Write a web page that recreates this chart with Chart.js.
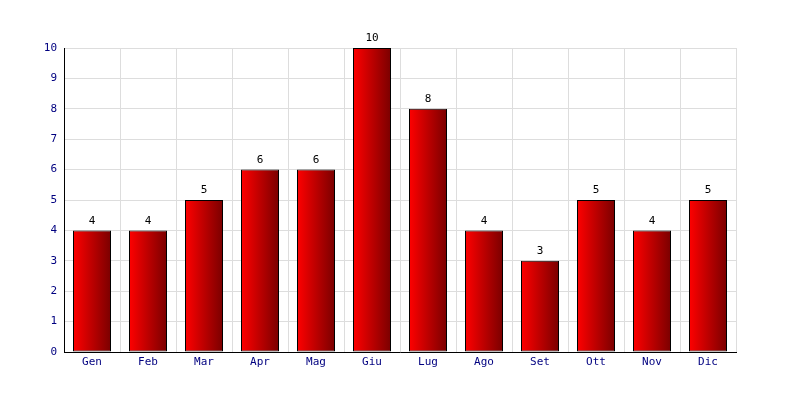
<!DOCTYPE html>
<html><head><meta charset="utf-8">
<script src="https://cdn.jsdelivr.net/npm/chart.js@4"></script>
<style>html,body{margin:0;padding:0;background:#fff}#wrap{width:800px;height:400px}</style>
</head><body><div id="wrap"><canvas id="c" width="800" height="400"></canvas></div>
<script>
const categories = ['Gen','Feb','Mar','Apr','Mag','Giu','Lug','Ago','Set','Ott','Nov','Dic'];
const values = [4,4,5,6,6,10,8,4,3,5,4,5];
const yTicks = [0,1,2,3,4,5,6,7,8,9,10];

const FONT = 'DejaVu Sans Mono';
const FSIZE = 11;
const BAR_PCT = 38 / 56;

function barGradient(context) {
  const chart = context.chart;
  const xs = chart.scales && chart.scales.x;
  if (!xs || context.dataIndex === undefined) return '#c00000';
  const cx = xs.getPixelForValue(context.dataIndex);
  const w = (xs.width / categories.length) * BAR_PCT;
  if (!isFinite(cx) || !isFinite(w) || w <= 0) return '#c00000';
  const g = chart.ctx.createLinearGradient(cx - w / 2, 0, cx + w / 2, 0);
  g.addColorStop(0, '#ff0000');
  g.addColorStop(1, '#7a0000');
  return g;
}

const labelPlugin = {
  id: 'vlabels',
  afterDatasetsDraw(chart) {
    const ctx = chart.ctx;
    ctx.save();
    ctx.font = FSIZE + 'px ' + FONT;
    ctx.fillStyle = '#000';
    ctx.textAlign = 'center';
    ctx.textBaseline = 'bottom';
    chart.getDatasetMeta(0).data.forEach((bar, i) => {
      ctx.fillText(String(values[i]), Math.round(bar.x), bar.y - 4);
    });
    ctx.restore();
  }
};

new Chart(document.getElementById('c'), {
  type: 'bar',
  data: {
    labels: categories,
    datasets: [{
      data: values,
      backgroundColor: barGradient,
      borderColor: '#000',
      borderWidth: 1,
      borderSkipped: false,
      barPercentage: BAR_PCT,
      categoryPercentage: 1
    }]
  },
  options: {
    responsive: false,
    animation: false,
    devicePixelRatio: 1,
    layout: { padding: { left: 0, right: 64, top: 48, bottom: 0 } },
    plugins: { legend: { display: false }, tooltip: { enabled: false } },
    scales: {
      x: {
        grid: { color: '#dddddd', drawTicks: false, offset: true },
        border: { color: '#000', width: 1 },
        ticks: { color: '#000080', font: { family: FONT, size: FSIZE }, padding: 4 },
        afterFit(s) { s.height = 48; }
      },
      y: {
        min: 0, max: 10,
        afterBuildTicks(s) { s.ticks = yTicks.map(v => ({ value: v })); },
        grid: { color: '#dddddd', drawTicks: false },
        border: { color: '#000', width: 1 },
        ticks: { color: '#000080', font: { family: FONT, size: FSIZE }, padding: 7 },
        afterFit(s) { s.width = 64; }
      }
    }
  },
  plugins: [labelPlugin]
});
</script>
</body></html>
